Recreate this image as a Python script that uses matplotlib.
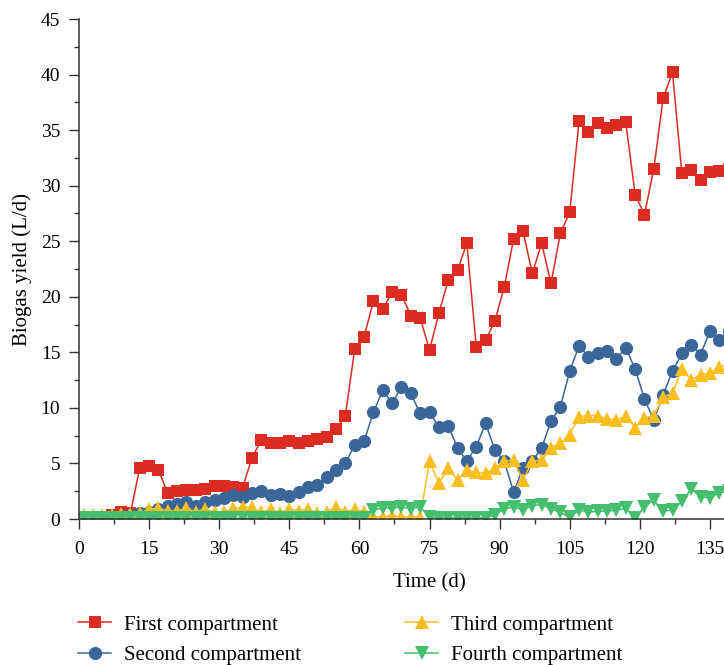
import matplotlib
matplotlib.use("Agg")
import matplotlib.pyplot as plt
from matplotlib.ticker import MultipleLocator

plt.rcParams['font.family'] = ['Liberation Serif', 'DejaVu Serif']

# sampling days (every second day)
days = list(range(1, 140, 2))

# biogas yield of each compartment (L/d)
first = [0.1, 0.1, 0.2, 0.4, 0.6, 0.5, 4.6, 4.8, 4.4, 2.3,
         2.5, 2.6, 2.6, 2.7, 3.0, 3.0, 2.9, 2.8, 5.5, 7.1,
         6.8, 6.8, 7.05, 6.8, 7.05, 7.2, 7.4, 8.1, 9.3, 15.3,
         16.4, 19.6, 18.9, 20.4, 20.2, 18.3, 18.1, 15.2, 18.5, 21.5,
         22.4, 24.8, 15.5, 16.1, 17.8, 20.9, 25.2, 25.9, 22.1, 24.8,
         21.2, 25.7, 27.6, 35.8, 34.8, 35.6, 35.2, 35.5, 35.7, 29.2,
         27.4, 31.5, 37.9, 40.2, 31.1, 31.4, 30.5, 31.2, 31.3, 31.5]
second = [0.1, 0.1, 0.2, 0.2, 0.3, 0.4, 0.5, 0.6, 0.9, 1.2,
          1.35, 1.5, 1.2, 1.5, 1.7, 1.85, 2.15, 2.0, 2.3, 2.55,
          2.2, 2.25, 2.1, 2.45, 2.85, 3.1, 3.8, 4.4, 5.0, 6.7,
          7.0, 9.6, 11.6, 10.4, 11.9, 11.3, 9.5, 9.6, 8.3, 8.4,
          6.4, 5.2, 6.5, 8.6, 6.2, 5.2, 2.4, 4.6, 5.2, 6.4,
          8.8, 10.1, 13.3, 15.6, 14.6, 14.9, 15.1, 14.4, 15.4, 13.5,
          10.8, 8.9, 11.2, 13.3, 14.9, 15.7, 14.8, 16.9, 16.1, 16.9]
third = [0.35, 0.4, 0.4, 0.35, 0.45, 0.45, 0.5, 0.9, 0.95, 0.75,
         0.75, 0.95, 0.65, 0.9, 0.65, 0.6, 0.95, 1.05, 1.05, 0.6,
         0.9, 0.55, 0.9, 0.75, 0.9, 0.55, 0.65, 1.05, 0.65, 0.9,
         0.6, 0.2, 0.2, 0.3, 0.2, 0.2, 0.2, 5.2, 3.2, 4.6,
         3.5, 4.4, 4.2, 4.1, 4.6, 5.2, 5.3, 3.5, 5.2, 5.3,
         6.4, 6.8, 7.6, 9.2, 9.3, 9.3, 9.0, 8.9, 9.3, 8.2,
         9.1, 9.3, 11.0, 11.3, 13.5, 12.5, 13.0, 13.1, 13.7, 13.9]
fourth = [0.05, 0.05, 0.1, 0.05, 0.1, 0.05, 0.1, 0.1, 0.05, 0.1,
          0.1, 0.05, 0.1, 0.1, 0.05, 0.1, 0.1, 0.05, 0.1, 0.1,
          0.05, 0.1, 0.1, 0.05, 0.1, 0.1, 0.05, 0.1, 0.1, 0.1,
          0.1, 0.8, 1.0, 1.0, 1.1, 0.9, 1.1, 0.2, 0.1, 0.1,
          0.1, 0.1, 0.1, 0.1, 0.4, 0.9, 1.1, 0.8, 1.2, 1.3,
          0.9, 0.6, 0.15, 0.8, 0.6, 0.7, 0.7, 0.8, 0.95, 0.1,
          1.1, 1.7, 0.7, 0.8, 1.6, 2.7, 2.0, 1.9, 2.35, 2.5]

labels = ['First compartment', 'Second compartment',
          'Third compartment', 'Fourth compartment']
colors = ['#dc2b21', '#3a6699', '#f8be22', '#43bf6e']
markers = ['s', 'o', '^', 'v']
sizes = [8.5, 9.5, 10, 10]

fig = plt.figure(figsize=(7.24, 6.65), dpi=100)
# axes runs past the right edge of the figure
ax = fig.add_axes([79 / 724, 146 / 665, 701 / 724, 500 / 665])

lines = []
for ys, lab, c, m, s in zip([first, second, third, fourth], labels, colors, markers, sizes):
    ln, = ax.plot(days, ys, color=c, marker=m, markersize=s, linewidth=1.1,
                  markeredgewidth=0, label=lab)
    lines.append(ln)

ax.set_xlim(0, 150)
ax.set_ylim(0, 45)
ax.xaxis.set_major_locator(MultipleLocator(15))
ax.xaxis.set_minor_locator(MultipleLocator(7.5))
ax.yaxis.set_major_locator(MultipleLocator(5))
ax.yaxis.set_minor_locator(MultipleLocator(2.5))
ax.spines['top'].set_visible(False)
ax.spines['right'].set_visible(False)
for sp in ['left', 'bottom']:
    ax.spines[sp].set_linewidth(1.1)
    ax.spines[sp].set_color('#333333')
ax.tick_params(which='major', direction='out', length=7.5, width=1, color='#333333',
               labelsize=14)
ax.tick_params(axis='x', which='major', pad=8)
ax.tick_params(axis='y', which='major', pad=6)
ax.tick_params(which='minor', direction='out', length=3.8, width=1, color='#333333')

ax.set_xlabel('Time (d)', fontsize=15, labelpad=11.5)
ax.set_ylabel('Biogas yield (L/d)', fontsize=15, labelpad=6)

# legend in two columns below the plot
leg_kw = dict(loc='upper left', frameon=False, fontsize=15, handlelength=1.6,
              handletextpad=0.62, borderpad=0, borderaxespad=0, labelspacing=0.52)
fig.legend(handles=lines[:2], bbox_to_anchor=(78 / 724, 1 - 615 / 665), **leg_kw)
fig.legend(handles=lines[2:], bbox_to_anchor=(405 / 724, 1 - 615 / 665), **leg_kw)

fig.savefig('out.png', dpi=100)
